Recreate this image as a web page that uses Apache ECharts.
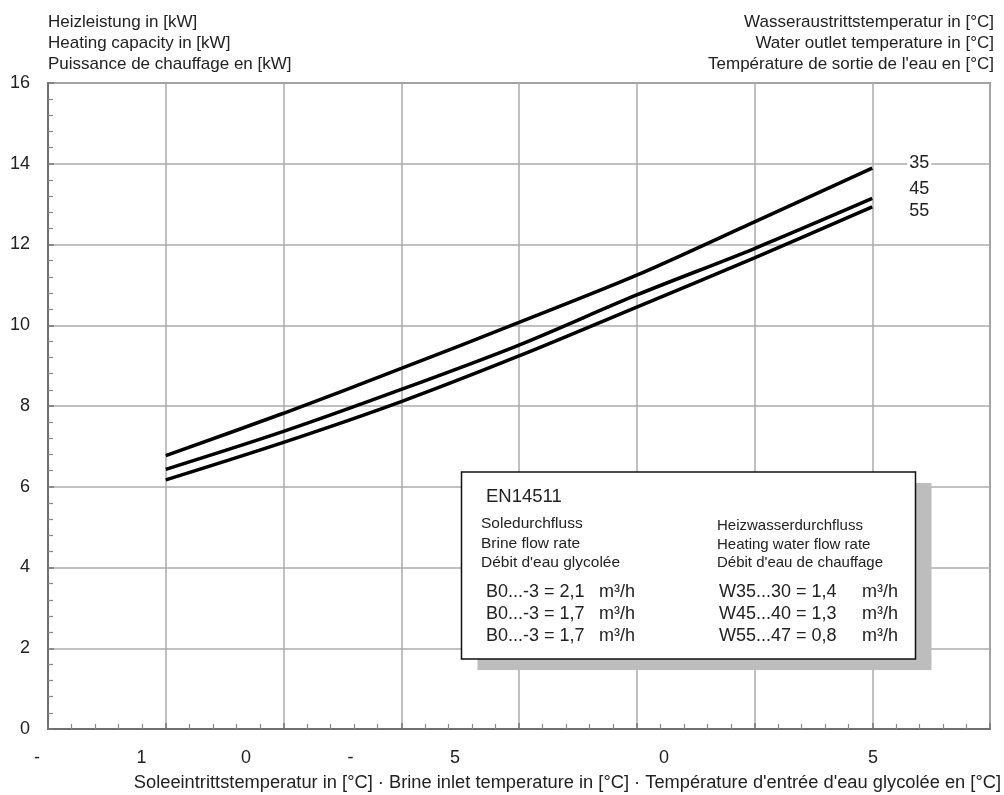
<!DOCTYPE html>
<html>
<head>
<meta charset="utf-8">
<script src="https://cdn.jsdelivr.net/npm/echarts@6/dist/echarts.min.js"></script>
<style>html,body{margin:0;padding:0;background:#fff}#c{width:1004px;height:795px}</style>
</head>
<body>
<div id="c"></div>
<script>
// ---- data ----
const xPos = [1, 2, 3, 4, 5, 6, 7];            // grid column positions of curve points
const w35 = [6.77, 7.82, 8.93, 10.07, 11.24, 12.56, 13.89];
const w45 = [6.43, 7.37, 8.41, 9.51, 10.75, 11.90, 13.14];
const w55 = [6.17, 7.10, 8.11, 9.24, 10.45, 11.67, 12.93];
const seriesNames = ['35', '45', '55'];
const xTickLabels = ['-', '1', '0', '-', '5', '', '0', '', '5'];
const yTicks = [0, 2, 4, 6, 8, 10, 12, 14, 16];
const leftTitle = ['Heizleistung in [kW]', 'Heating capacity in [kW]', 'Puissance de chauffage en [kW]'];
const rightTitle = ['Wasseraustrittstemperatur in [°C]', 'Water outlet temperature in [°C]', "Température de sortie de l'eau en [°C]"];
const xTitle = "Soleeintrittstemperatur in [°C] · Brine inlet temperature in [°C] · Température d'entrée d'eau glycolée en [°C]";
const boxHeader = 'EN14511';
const brineHead = ['Soledurchfluss', 'Brine flow rate', "Débit d'eau glycolée"];
const waterHead = ['Heizwasserdurchfluss', 'Heating water flow rate', "Débit d'eau de chauffage"];
const brineFlow = ['B0...-3 = 2,1', 'B0...-3 = 1,7', 'B0...-3 = 1,7'];
const waterFlow = ['W35...30 = 1,4', 'W45...40 = 1,3', 'W55...47 = 0,8'];
const flowUnit = 'm³/h';

const FONT = '"Liberation Sans", Arial, sans-serif';
const TXT = '#222';

const chart = echarts.init(document.getElementById('c'), null, {renderer: 'canvas'});

function pairs(ys) { return xPos.map((x, i) => [x, ys[i]]); }

const endOffsets = [[27, -5], [27, -9], [27, 4]];
const allY = [w35, w45, w55];
const series = allY.map((ys, k) => ({
  name: seriesNames[k],
  type: 'line',
  xAxisIndex: 0,
  yAxisIndex: 0,
  data: pairs(ys),
  smooth: 0.3,
  showSymbol: false,
  silent: true,
  lineStyle: {color: '#000', width: 3.5},
  endLabel: {
    show: true,
    formatter: '{a}',
    offset: endOffsets[k],
    fontSize: 18,
    fontFamily: FONT,
    color: TXT,
    backgroundColor: k === 0 ? '#fff' : 'transparent',
    padding: [0, 2]
  },
  z: 5
}));

const titles = [];
leftTitle.forEach((t, i) => titles.push({text: t, left: 43, top: 9 + i * 21, textStyle: {fontSize: 17, fontWeight: 'normal', color: TXT, fontFamily: FONT}}));
rightTitle.forEach((t, i) => titles.push({text: t, right: 5, top: 9 + i * 21, textStyle: {fontSize: 17, fontWeight: 'normal', color: TXT, fontFamily: FONT}}));
titles.push({text: xTitle, right: -2, top: 769, textStyle: {fontSize: 18.3, fontWeight: 'normal', color: TXT, fontFamily: FONT}});

// info box
const bx = 461.5, by = 472, bw = 454, bh = 187;
const boxChildren = [
  {type: 'rect', shape: {x: bx + 16, y: by + 11, width: bw, height: bh}, style: {fill: '#bdbdbd'}, z: 100},
  {type: 'rect', shape: {x: bx, y: by, width: bw, height: bh}, style: {fill: '#fff', stroke: '#111', lineWidth: 1.5}, z: 101},
  {type: 'text', x: 486, y: 497, style: {text: boxHeader, fontSize: 18.5, fontFamily: FONT, fill: TXT, verticalAlign: 'middle'}, z: 102}
];
brineHead.forEach((t, i) => boxChildren.push({type: 'text', x: 481, y: 524 + i * 19.5, style: {text: t, fontSize: 15.5, fontFamily: FONT, fill: TXT, verticalAlign: 'middle'}, z: 102}));
waterHead.forEach((t, i) => boxChildren.push({type: 'text', x: 717, y: 526 + i * 18.5, style: {text: t, fontSize: 15, fontFamily: FONT, fill: TXT, verticalAlign: 'middle'}, z: 102}));
brineFlow.forEach((t, i) => {
  boxChildren.push({type: 'text', x: 486, y: 592 + i * 22, style: {text: t, fontSize: 18, fontFamily: FONT, fill: TXT, verticalAlign: 'middle'}, z: 102});
  boxChildren.push({type: 'text', x: 599, y: 592 + i * 22, style: {text: flowUnit, fontSize: 18, fontFamily: FONT, fill: TXT, verticalAlign: 'middle'}, z: 102});
});
waterFlow.forEach((t, i) => {
  boxChildren.push({type: 'text', x: 719, y: 592 + i * 22, style: {text: t, fontSize: 18, fontFamily: FONT, fill: TXT, verticalAlign: 'middle'}, z: 102});
  boxChildren.push({type: 'text', x: 862, y: 592 + i * 22, style: {text: flowUnit, fontSize: 18, fontFamily: FONT, fill: TXT, verticalAlign: 'middle'}, z: 102});
});

const option = {
  backgroundColor: '#fff',
  animation: false,
  title: titles,
  grid: [
    {left: 48, top: 83, right: 14, bottom: 66, show: true, borderColor: '#8a8a8a', borderWidth: 2, backgroundColor: 'transparent'},
    {left: 37, top: 83, right: 131, bottom: 66, show: false}
  ],
  xAxis: [
    {
      type: 'value', gridIndex: 0, min: 0, max: 8, interval: 1,
      axisLine: {show: true, lineStyle: {color: '#6f6f6f', width: 2}},
      axisTick: {show: true, inside: true, length: 6, lineStyle: {color: '#777', width: 1.5}},
      minorTick: {show: true, splitNumber: 5, length: 5, lineStyle: {color: '#888', width: 1.2}},
      splitLine: {show: true, lineStyle: {color: '#ababab', width: 1.5}},
      axisLabel: {show: false}
    },
    {
      type: 'value', gridIndex: 1, position: 'bottom', min: 0, max: 8, interval: 1,
      axisLine: {show: false}, axisTick: {show: false}, splitLine: {show: false},
      axisLabel: {
        show: true,
        formatter: v => xTickLabels[Math.round(v)],
        fontSize: 18, fontFamily: FONT, color: TXT, margin: 20
      }
    }
  ],
  yAxis: [
    {
      type: 'value', gridIndex: 0, min: 0, max: 16, interval: 2,
      axisLine: {show: true, lineStyle: {color: '#6f6f6f', width: 2}},
      axisTick: {show: true, inside: true, length: 6, lineStyle: {color: '#777', width: 1.5}},
      minorTick: {show: true, splitNumber: 5, length: 5, lineStyle: {color: '#888', width: 1.2}},
      splitLine: {show: true, lineStyle: {color: '#ababab', width: 1.5}},
      axisLabel: {fontSize: 18, fontFamily: FONT, color: TXT, margin: 18, customValues: yTicks}
    },
    {
      type: 'value', gridIndex: 1, min: 0, max: 16, show: false
    }
  ],
  series: series,
  graphic: boxChildren
};
chart.setOption(option);
</script>
</body>
</html>
